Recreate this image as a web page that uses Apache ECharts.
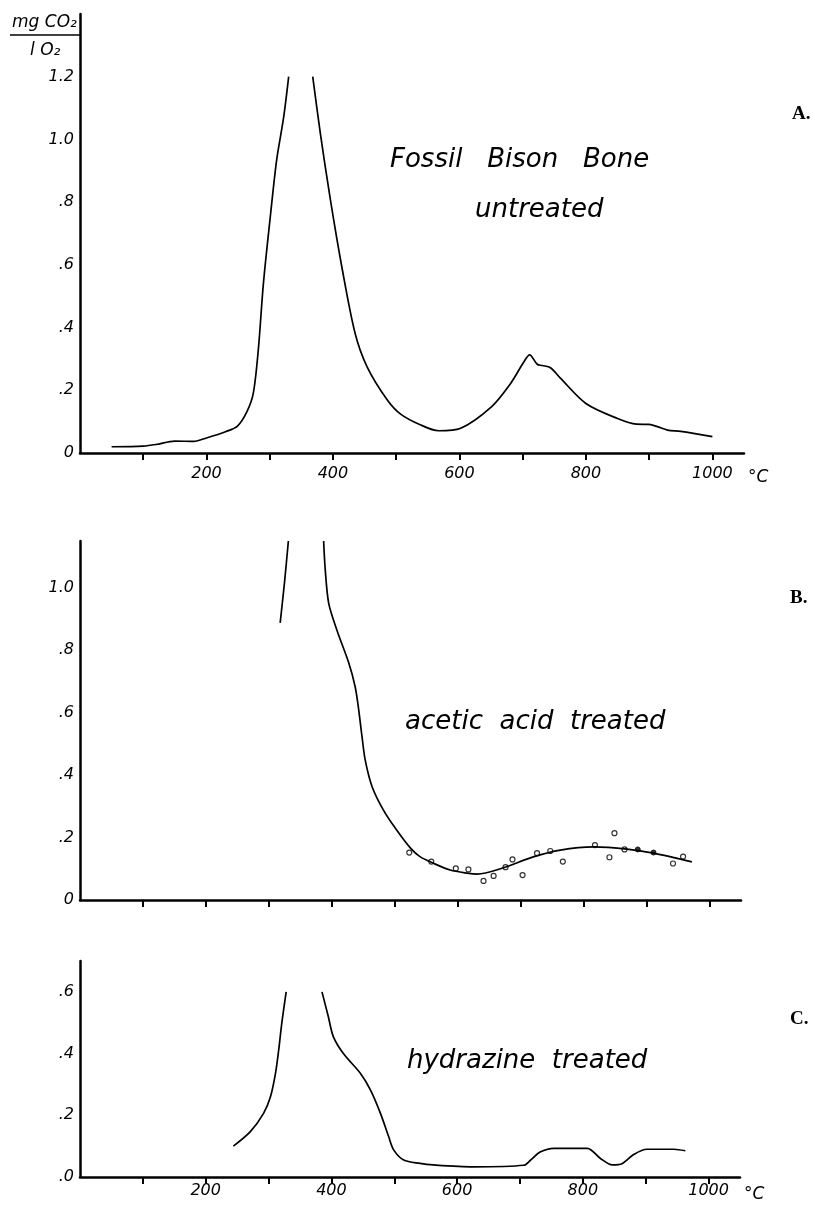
<!DOCTYPE html>
<html>
<head>
<meta charset="utf-8">
<script src="https://cdn.jsdelivr.net/npm/echarts@6/dist/echarts.min.js"></script>
<style>
  html, body { margin: 0; padding: 0; background: #fff; }
  #chart { width: 815px; height: 1212px; }
</style>
</head>
<body>
<div id="chart"></div>
<script>
// temperatures (°C) and mg CO2 / l O2
const tempA1 = [50, 100, 120, 150, 180, 200, 230, 249, 264, 274, 282, 290, 301, 311, 322, 330]
const valA1 = [0.02, 0.022, 0.027, 0.038, 0.037, 0.048, 0.068, 0.086, 0.132, 0.19, 0.33, 0.54, 0.755, 0.935, 1.07, 1.2]
const tempA2 = [368, 380, 396, 414, 435, 454, 486, 507, 538, 567, 602, 651, 681, 702, 711, 723, 731, 744, 760, 800, 850, 880, 900, 913, 929, 950, 1000]
const valA2 = [1.2, 1.02, 0.807, 0.594, 0.382, 0.275, 0.169, 0.124, 0.09, 0.071, 0.079, 0.148, 0.222, 0.291, 0.313, 0.283, 0.279, 0.272, 0.238, 0.158, 0.11, 0.092, 0.091, 0.084, 0.073, 0.069, 0.052]

const tempB1 = [318, 325, 331]
const valB1 = [0.888, 1.02, 1.15]
const tempB2 = [387, 389.5, 395, 408, 427, 437, 442, 448, 453, 464, 482, 503, 525, 540, 561, 588, 615, 631, 668, 720, 763, 816, 869, 911, 972]
const valB2 = [1.15, 1.06, 0.951, 0.865, 0.759, 0.684, 0.62, 0.523, 0.449, 0.363, 0.288, 0.224, 0.166, 0.139, 0.118, 0.096, 0.086, 0.083, 0.1, 0.138, 0.16, 0.17, 0.163, 0.15, 0.122]
// measured points on B (open circles), two filled ones separately
const ptTempB = [523, 558, 597, 617, 641, 657, 676, 687, 703, 726, 747, 767, 818, 841, 849, 865, 942, 958]
const ptValB = [0.152, 0.123, 0.101, 0.098, 0.061, 0.077, 0.105, 0.13, 0.08, 0.15, 0.157, 0.123, 0.176, 0.137, 0.214, 0.162, 0.117, 0.139]
const fillTempB = [886, 911]
const fillValB = [0.162, 0.152]

const tempC1 = [244, 271, 292, 303, 311, 316, 321, 328]
const valC1 = [0.1, 0.147, 0.206, 0.26, 0.336, 0.41, 0.498, 0.6]
const tempC2 = [385, 395, 403, 419, 446, 462, 478, 491, 499, 515, 541, 562, 626, 706, 717, 732, 754, 807, 828, 847, 863, 881, 902, 945, 963]
const valC2 = [0.6, 0.52, 0.455, 0.4, 0.336, 0.282, 0.206, 0.131, 0.088, 0.055, 0.044, 0.039, 0.033, 0.038, 0.055, 0.081, 0.093, 0.093, 0.06, 0.039, 0.044, 0.073, 0.09, 0.09, 0.085]

const xTicks = [100, 200, 300, 400, 500, 600, 700, 800, 900, 1000]
const xLabels = [200, 400, 600, 800, 1000]
const yLabelsA = [0, 0.2, 0.4, 0.6, 0.8, 1.0, 1.2]
const yLabelsB = [0, 0.2, 0.4, 0.6, 0.8, 1.0]
const yLabelsC = [0, 0.2, 0.4, 0.6]

const font = 'DejaVu Sans'
const pairs = (xs, ys) => xs.map((x, i) => [x, ys[i]])

function xAxis (idx, withLabels, margin) {
  return {
    type: 'value', gridIndex: idx, min: 0, max: 1050,
    axisLine: { lineStyle: { color: '#000', width: 2.5 } },
    axisTick: { show: true, customValues: xTicks, length: 7, lineStyle: { color: '#000', width: 2 } },
    axisLabel: {
      show: withLabels, customValues: xLabels, margin: margin,
      color: '#000', fontFamily: font, fontStyle: 'italic', fontSize: 16,
      formatter: v => String(v)
    },
    splitLine: { show: false },
    name: withLabels ? '°C' : '',
    nameLocation: 'end', nameGap: 4,
    nameTextStyle: { color: '#000', fontFamily: font, fontStyle: 'italic', fontSize: 17, align: 'left', verticalAlign: 'top', padding: [margin + 3, 0, 0, 0] }
  }
}

function yAxis (idx, max, labels, zeroText) {
  return {
    type: 'value', gridIndex: idx, min: 0, max: max,
    axisLine: { show: true, lineStyle: { color: '#000', width: 2.5 } },
    axisTick: { show: false },
    axisLabel: {
      customValues: labels, margin: 6,
      color: '#000', fontFamily: font, fontStyle: 'italic', fontSize: 16,
      formatter: v => v === 0 ? zeroText : (v < 1 ? String(+v.toFixed(1)).replace('0.', '.') : v.toFixed(1))
    },
    splitLine: { show: false }
  }
}

function curve (idx, xs, ys) {
  return {
    type: 'line', xAxisIndex: idx, yAxisIndex: idx,
    data: pairs(xs, ys), smooth: 0.3, showSymbol: false,
    lineStyle: { color: '#000', width: 1.7 }
  }
}

const textStyle = (x, y, text, size) => ({
  type: 'text', left: x, top: y,
  style: { text: text, fill: '#000', font: 'italic ' + size + 'px "' + font + '"' }
})
const panelTag = (x, y, text) => ({
  type: 'text', left: x, top: y,
  style: { text: text, fill: '#000', font: 'bold 19px "Liberation Serif"' }
})

const option = {
  backgroundColor: '#fff',
  animation: false,
  grid: [
    { left: 80, width: 664, top: 14, height: 439 },
    { left: 80, width: 661, top: 541, height: 359 },
    { left: 80, width: 660, top: 961, height: 216 }
  ],
  xAxis: [xAxis(0, true, 13), xAxis(1, false, 8), xAxis(2, true, 6)],
  yAxis: [yAxis(0, 1.4, yLabelsA, '0'), yAxis(1, 1.15, yLabelsB, '0'), yAxis(2, 0.7, yLabelsC, '.0')],
  series: [
    curve(0, tempA1, valA1),
    curve(0, tempA2, valA2),
    curve(1, tempB1, valB1),
    curve(1, tempB2, valB2),
    {
      type: 'scatter', xAxisIndex: 1, yAxisIndex: 1, data: pairs(ptTempB, ptValB),
      symbol: 'circle', symbolSize: 5,
      itemStyle: { color: '#fff', borderColor: '#000', borderWidth: 1.2 }
    },
    {
      type: 'scatter', xAxisIndex: 1, yAxisIndex: 1, data: pairs(fillTempB, fillValB),
      symbol: 'circle', symbolSize: 5,
      itemStyle: { color: '#000', borderColor: '#000', borderWidth: 1 }
    },
    curve(2, tempC1, valC1),
    curve(2, tempC2, valC2)
  ],
  graphic: [
    textStyle(12, 14, 'mg CO₂', 17),
    { type: 'line', shape: { x1: 10, y1: 35, x2: 80, y2: 35 }, style: { stroke: '#000', lineWidth: 1.5 } },
    textStyle(30, 42, 'l O₂', 17),
    textStyle(390, 147, 'Fossil   Bison   Bone', 26),
    textStyle(475, 197, 'untreated', 26),
    textStyle(405, 709, 'acetic  acid  treated', 26),
    textStyle(407, 1048, 'hydrazine  treated', 26),
    panelTag(792, 105, 'A.'),
    panelTag(790, 589, 'B.'),
    panelTag(790, 1010, 'C.')
  ]
}

echarts.init(document.getElementById('chart')).setOption(option)
</script>
</body>
</html>
